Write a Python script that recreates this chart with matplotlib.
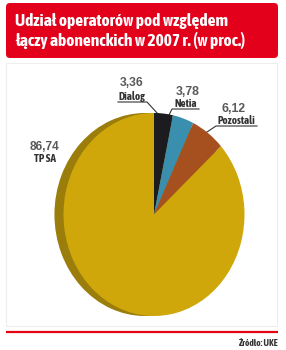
import matplotlib
matplotlib.use("Agg")
import matplotlib.pyplot as plt
from matplotlib.patches import FancyBboxPatch, Rectangle

# Data
labels = ["Dialog", "Netia", "Pozostali", "TP SA"]
values = [3.36, 3.78, 6.12, 86.74]
colors = ["#1c1b20", "#3a8eae", "#a6501f", "#cfa70b"]
value_text = ["3,36", "3,78", "6,12", "86,74"]
title = "Udział operatorów pod względem\nłączy abonenckich w 2007 r. (w proc.)"
source = "Źródło: UKE"

W, H = 286, 350
cond = ["Asap Condensed", "DejaVu Sans"]
fig = plt.figure(figsize=(W / 100, H / 100), dpi=100)
fig.patch.set_facecolor("white")
renderer = fig.canvas.get_renderer()


def fit(t, width_px):
    # scale font so the text is about width_px wide
    w = t.get_window_extent(renderer).width
    t.set_fontsize(t.get_fontsize() * width_px / w)


# background axes in pixel coordinates
bg = fig.add_axes([0, 0, 1, 1])
bg.set_xlim(0, W)
bg.set_ylim(H, 0)
bg.axis("off")

# title box
bg.add_patch(FancyBboxPatch((6, 3), 272, 55, boxstyle="round,pad=0,rounding_size=4",
                            fc="#e2001a", ec="none"))
tt = bg.text(15, 31, title, color="white", fontsize=12, fontweight="bold",
             family=cond, va="center", ha="left", linespacing=1.25)
fit(tt, 228)

# faint frame and red rule
bg.add_patch(Rectangle((6, 63), 271, 263, fc="none", ec="#eeeeee", lw=0.8))
bg.plot([6, 278], [332, 332], color="#e30613", lw=1.6, solid_capstyle="butt")
st = bg.text(278, 343, source, color="#333333", fontsize=8, fontweight="bold",
             family=cond, ha="right", va="center")
fit(st, 40)

# pie (elliptical, with a shadow edge on the left)
cx, cy, rx, ry = 154, 214.5, 90.5, 101.5
pax = fig.add_axes([(cx - rx) / W, (H - cy - ry) / H, 2 * rx / W, 2 * ry / H])
pax.pie([1], colors=["#9a7d0a"], radius=1, center=(-0.1, 0), startangle=90)
pax.pie(values, colors=colors, radius=1, startangle=90, counterclock=False,
        wedgeprops=dict(lw=0))
pax.set_aspect("auto")
pax.set_xlim(-1, 1)
pax.set_ylim(-1, 1)
pax.axis("off")

# labels
num_pos = [(131.5, 83), (187.5, 92), (234, 108.5), (44.5, 147)]
num_w = [24, 24, 24, 30]
name_pos = [(132, 96), (186, 103.5), (236, 120), (44.5, 159)]
for (x, y), t, w in zip(num_pos, value_text, num_w):
    a = bg.text(x, y, t, color="#58595b", fontsize=9.5, fontweight="bold",
                family=["Liberation Sans", "DejaVu Sans"], ha="center", va="center")
    fit(a, w)
for (x, y), t in zip(name_pos, labels):
    bg.text(x, y, t, color="#333333", fontsize=8, fontweight="bold",
            family=cond, ha="center", va="center")

# leader lines
leaders = [
    [(118, 102), (147, 102), (158, 114)],
    [(199, 109), (172, 109), (168, 117)],
    [(257, 126), (216, 126), (207, 132)],
]
for pts in leaders:
    xs, ys = zip(*pts)
    bg.plot(xs, ys, color="#333333", lw=0.8)

fig.savefig("out.png", dpi=100)
